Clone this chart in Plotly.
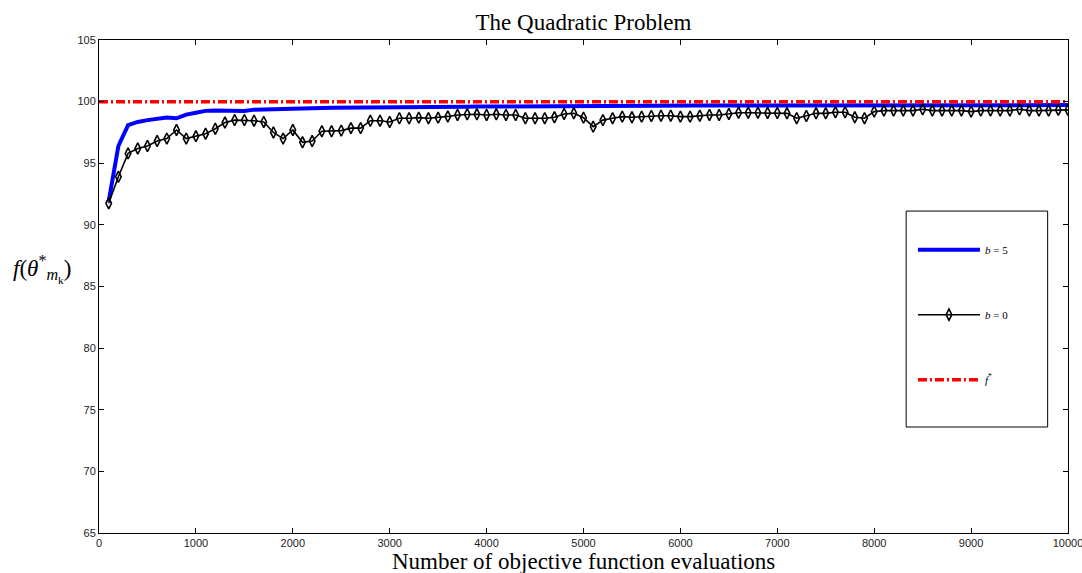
import plotly.graph_objects as go

evals = list(range(100, 10001, 100))

f_b5 = [91.9, 96.4, 98.1, 98.35, 98.5, 98.6, 98.72, 98.65, 98.95, 99.1,
        99.25, 99.28, 99.28, 99.27, 99.24, 99.35, 99.38, 99.4, 99.42, 99.45,
        99.45, 99.47, 99.48, 99.5, 99.5, 99.52, 99.52, 99.52, 99.53, 99.53,
        99.54, 99.54, 99.55, 99.55, 99.55, 99.56, 99.58, 99.58, 99.6, 99.6,
        99.6, 99.6, 99.62, 99.62, 99.62, 99.63, 99.63, 99.64, 99.64, 99.65,
        99.65, 99.65, 99.66, 99.66, 99.66, 99.67, 99.67, 99.67, 99.68, 99.68,
        99.68, 99.68, 99.69, 99.69, 99.69, 99.7, 99.7, 99.7, 99.7, 99.7,
        99.7, 99.7, 99.7, 99.71, 99.71, 99.71, 99.71, 99.71, 99.71, 99.71,
        99.71, 99.71, 99.72, 99.72, 99.72, 99.72, 99.72, 99.72, 99.72, 99.72,
        99.72, 99.72, 99.72, 99.72, 99.72, 99.72, 99.72, 99.72, 99.72, 99.72]

f_b0 = [91.75, 93.9, 95.8, 96.2, 96.4, 96.8, 97.0, 97.7, 97.0, 97.2,
        97.4, 97.8, 98.3, 98.5, 98.5, 98.45, 98.35, 97.5, 97.0, 97.7,
        96.7, 96.8, 97.6, 97.6, 97.65, 97.85, 97.85, 98.45, 98.45, 98.35,
        98.65, 98.65, 98.7, 98.65, 98.7, 98.8, 98.92, 98.97, 98.97, 98.92,
        98.97, 98.92, 98.92, 98.65, 98.65, 98.65, 98.73, 99.0, 99.05, 98.7,
        97.97, 98.5, 98.65, 98.78, 98.73, 98.78, 98.84, 98.86, 98.86, 98.78,
        98.78, 98.86, 98.92, 98.92, 99.0, 99.1, 99.1, 99.1, 99.08, 99.08,
        99.05, 98.65, 98.84, 99.05, 99.05, 99.14, 99.14, 98.73, 98.65, 99.19,
        99.27, 99.27, 99.27, 99.27, 99.38, 99.27, 99.27, 99.27, 99.27, 99.19,
        99.27, 99.27, 99.27, 99.27, 99.38, 99.27, 99.27, 99.27, 99.33, 99.33]

f_star = 100
x_range = [0, 10000]
y_range = [65, 105]
x_ticks = list(range(0, 10001, 1000))
y_ticks = list(range(65, 106, 5))

serif = "Liberation Serif"
sans = "Liberation Sans"

fig = go.Figure()
fig.add_trace(go.Scatter(
    x=evals, y=f_b5, mode="lines", name="<i>b</i> = 5", legendgroup="a",
    line=dict(color="#0000ff", width=4)))
fig.add_trace(go.Scatter(
    x=evals, y=f_b0, mode="lines+markers", name="<i>b</i> = 0", legendgroup="b",
    line=dict(color="black", width=1.6),
    marker=dict(symbol="diamond-tall-open", size=8, color="black",
                line=dict(width=1.6, color="black"))))
fig.add_trace(go.Scatter(
    x=x_range, y=[f_star, f_star], mode="lines", name="<i>f</i><sup>*</sup>",
    legendgroup="c",
    line=dict(color="#ff0000", width=3.5, dash="9px,3px,2px,3px")))

axis_common = dict(showline=True, linecolor="black", linewidth=1, mirror="ticks",
                   ticks="inside", ticklen=5, tickcolor="black", showgrid=False,
                   zeroline=False, automargin=False, tickformat="d",
                   ticklabeloverflow="allow",
                   tickfont=dict(family=sans, size=11, color="#222"))

fig.update_layout(
    width=1082, height=573,
    margin=dict(l=99, r=14, t=40, b=40),
    paper_bgcolor="white", plot_bgcolor="white",
    title=dict(text="The Quadratic Problem", x=0.5, xref="paper",
               y=0.962, yanchor="middle",
               font=dict(family=serif, size=23, color="black")),
    xaxis=dict(range=x_range, tickvals=x_ticks, **axis_common),
    yaxis=dict(range=y_range, tickvals=y_ticks, **axis_common),
    legend=dict(x=0.840, y=0.604, xanchor="left", yanchor="top",
                bgcolor="rgba(0,0,0,0)", borderwidth=0,
                font=dict(family=serif, size=11, color="black"),
                tracegroupgap=46, itemwidth=62),
    showlegend=True,
)

fig.add_shape(type="rect", xref="paper", yref="paper",
              x0=0.833, x1=0.979, y0=0.215, y1=0.653,
              line=dict(color="black", width=1), fillcolor="rgba(0,0,0,0)")

fig.add_annotation(text="Number of objective function evaluations",
                   xref="paper", yref="paper", x=0.5, y=-0.057, yanchor="middle",
                   showarrow=False, font=dict(family=serif, size=23, color="black"))

fig.add_annotation(text="<i>f</i>(<i>θ</i><sup>*</sup><sub><i>m</i><sub>k</sub></sub>)",
                   xref="paper", yref="paper", x=-0.091, y=0.535,
                   xanchor="left", yanchor="middle",
                   showarrow=False, font=dict(family=serif, size=23, color="black"))

fig.write_html("out.html", config={"displayModeBar": False},
               post_script="document.body.style.margin='0';")
